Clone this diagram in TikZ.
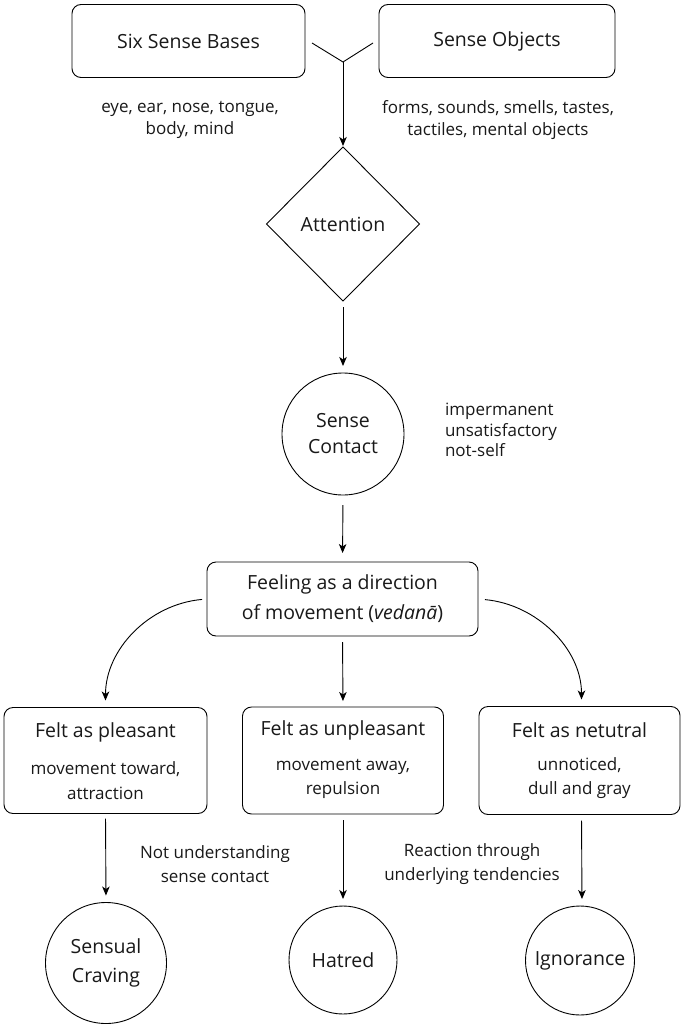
\documentclass[tikz,border=0pt]{standalone}
\usepackage{fontspec}
\setmainfont{Open Sans}
\usetikzlibrary{shapes.geometric,arrows.meta}
\begin{document}
\begin{tikzpicture}[x=1pt,y=-1pt,
  every node/.style={text=black!90, inner sep=0pt, outer sep=0pt},
  box/.style={draw, rounded corners=9pt, line width=0.9pt},
  ttl/.style={font=\fontsize{19.5}{30}\selectfont, align=center},
  lbl/.style={font=\fontsize{17}{23}\selectfont, align=center},
  circ/.style={draw, circle, line width=0.9pt, inner sep=0pt},
  arr/.style={draw, line width=0.9pt, -{Stealth[length=9pt,width=7.5pt,inset=2.5pt]}},
  conn/.style={draw, line width=0.9pt}]
\useasboundingbox[fill=white] (0,0) rectangle (681,1024);
% top boxes
\node[box, ttl, minimum width=233pt, minimum height=73pt] (b1) at (188.5,41) {Six Sense Bases};
\node[box, ttl, minimum width=236pt, minimum height=73pt] (b2) at (497,41) {Sense Objects};
\node[lbl, font=\fontsize{17}{22}\selectfont] (l1) at (190,120) {eye, ear, nose, tongue,\\body, mind};
\node[lbl, font=\fontsize{17}{22}\selectfont] (l2) at (498,120) {forms, sounds, smells, tastes,\\tactiles, mental objects};
% junction
\coordinate (jl) at (312,43);
\coordinate (jr) at (373,43);
\coordinate (jn) at (343,62);
\draw[conn] (jl) -- (jn) -- (jr);
% attention
\node[draw, diamond, line width=0.9pt, minimum width=153pt, minimum height=154pt, ttl] (att) at (343,224) {Attention};
\draw[arr, shorten >=1pt] (jn) -- (att.north);
% sense contact
\node[circ, minimum size=122pt, align=center, font=\fontsize{19.5}{26}\selectfont] (sc) at (343,434) {Sense\\Contact};
\draw[arr, shorten <=6pt, shorten >=7pt] (att.south) -- (sc.north);
\node[anchor=west, align=left, font=\fontsize{17}{20.5}\selectfont] (note) at (445,430) {impermanent\\unsatisfactory\\not-self};
% feeling
\node[box, ttl, minimum width=271pt, minimum height=74pt] (feel) at (342.5,599) {Feeling as a direction\\of movement (\textit{vedanā})};
\draw[arr, shorten <=10pt, shorten >=9pt] (sc.south) -- (feel.north);
% three boxes
\node[box, minimum width=203pt, minimum height=106pt] (pa) at (105.5,760.5) {};
\node[box, minimum width=201pt, minimum height=107pt] (pu) at (343,760.5) {};
\node[box, minimum width=201pt, minimum height=108pt] (pn) at (579.5,760.5) {};
\node[ttl] (pat) at (105.5,732) {Felt as pleasant};
\node[ttl] (put) at (343,730) {Felt as unpleasant};
\node[ttl] (pnt) at (579.5,730) {Felt as netutral};
\node[lbl, font=\fontsize{17}{25}\selectfont] (pas) at (105.5,780.5) {movement toward,\\attraction};
\node[lbl, font=\fontsize{17}{24}\selectfont] (pus) at (343,778.5) {movement away,\\repulsion};
\node[lbl, font=\fontsize{17}{24}\selectfont] (pns) at (579.5,778.5) {unnoticed,\\dull and gray};
\draw[arr, shorten <=5pt, shorten >=7pt] (feel.west) to[out=185,in=90] (pa.north);
\draw[arr, shorten <=6pt, shorten >=6pt] (feel.south) -- (pu.north);
\draw[arr, shorten <=7pt, shorten >=7pt] (feel.east) to[out=-5,in=90] ([xshift=2pt]pn.north);
% outcome circles
\node[circ, minimum size=121pt, align=center, font=\fontsize{19.5}{29}\selectfont] (cr) at (106,963) {Sensual\\Craving};
\node[circ, minimum size=108pt, ttl] (ha) at (343,960) {Hatred};
\node[circ, minimum size=109pt, ttl] (ig) at (580,960.5) {Ignorance};
\draw[arr, shorten <=5pt, shorten >=7pt] (pa.south) -- (cr.north);
\draw[arr, shorten <=6pt, shorten >=7pt] (pu.south) -- (ha.north);
\draw[arr, shorten <=6pt, shorten >=7pt] ([xshift=2pt]pn.south) -- ([xshift=2pt]ig.north);
\node[lbl, font=\fontsize{17}{24}\selectfont] (nu) at (215,864) {Not understanding\\sense contact};
\node[lbl, font=\fontsize{17}{24}\selectfont] (rt) at (472,864) {Reaction through\\underlying tendencies};
\end{tikzpicture}
\end{document}
